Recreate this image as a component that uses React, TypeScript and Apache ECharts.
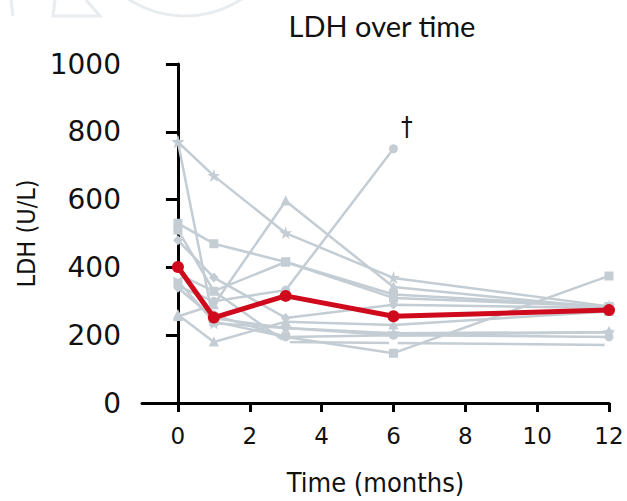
import React, { useEffect, useRef } from "react";
import * as echarts from "echarts";

// Sampling times (months) and tick marks
const months = [0, 1, 3, 6, 12];
const xTicks = [0, 2, 4, 6, 8, 10, 12];

// Mean LDH (U/L) across the cohort
const meanLDH = [401, 252, 316, 256, 274];

// Individual patients: LDH at months 0, 1, 3, 6, 12 (null = not measured)
const patientA = [770, 670, 501, 369, 285];
const patientB = [770, 235, 221, 206, 209];
const patientC = [255, 290, 596, 342, 280];
const patientD = [345, 300, 333, 750, null]; // died after month 6
const patientE = [530, 470, 416, 310, 285];
const patientF = [360, 240, 195, 147, 375];
const patientG = [480, 370, 251, 290, 280];
const patientH = [380, 330, 180, 177, 171];
const patientI = [400, 260, 195, 200, 195];
const patientJ = [260, 180, 240, 230, 270];
const patientK = [340, 250, 221, 200, 209];
const patientL = [510, 330, 416, 320, 285];

const STAR =
  "path://M50,0 L61,35 L98,35 L68,57 L79,91 L50,70 L21,91 L32,57 L2,35 L39,35 Z";

const patients: { values: (number | null)[]; symbol: string }[] = [
  { values: patientA, symbol: STAR },
  { values: patientB, symbol: STAR },
  { values: patientC, symbol: "triangle" },
  { values: patientD, symbol: "circle" },
  { values: patientE, symbol: "rect" },
  { values: patientF, symbol: "rect" },
  { values: patientG, symbol: "diamond" },
  { values: patientH, symbol: "emptyCircle" },
  { values: patientI, symbol: "circle" },
  { values: patientJ, symbol: "triangle" },
  { values: patientK, symbol: "diamond" },
  { values: patientL, symbol: "rect" },
];

const GRAY = "#c4cdd4";
const RED = "#cf0a1c";
const TICK_FONT = "'DejaVu Sans', sans-serif";
const NAME_FONT = "'Liberation Sans Narrow', 'DejaVu Sans Condensed', 'Open Sans', sans-serif";

export default function App() {
  const ref = useRef<HTMLDivElement>(null);

  useEffect(() => {
    if (!ref.current) return;
    const chart = echarts.init(ref.current, undefined, { renderer: "svg" });

    const patientSeries = patients.map((p, idx) => ({
      type: "line",
      name: "patient" + idx,
      data: months
        .map((m, i) => [m, p.values[i]])
        .filter((d) => d[1] !== null),
      symbol: p.symbol,
      symbolSize: 7,
      showSymbol: true,
      lineStyle: { color: GRAY, width: 2.5 },
      itemStyle: { color: p.symbol === "emptyCircle" ? "#fff" : GRAY, borderColor: GRAY, borderWidth: 2 },
      z: 2,
      label:
        p.values === patientD
          ? {
              show: true,
              formatter: (params: any) => (params.data[0] === 6 ? "†" : ""),
              position: "right",
              offset: [-2, -22],
              fontSize: 26,
              color: "#111",
              fontFamily: NAME_FONT,
            }
          : { show: false },
    }));

    chart.setOption({
      animation: false,
      backgroundColor: "#fff",
      title: {
        text: "LDH over time",
        left: 377,
        top: 6,
        textAlign: "center",
        textStyle: { fontSize: 29, fontWeight: "normal", color: "#111", fontFamily: "Lato, 'Open Sans', sans-serif" },
      },
      graphic: [
        {
          type: "circle",
          shape: { cx: 185, cy: -87, r: 103 },
          style: { fill: "none", stroke: "#e8ecee", lineWidth: 3 },
          silent: true,
        },
        {
          type: "polyline",
          shape: { points: [[55, 0], [53, 16], [100, 16], [86, 0]] },
          style: { fill: "none", stroke: "#e8ecee", lineWidth: 3 },
          silent: true,
        },
        {
          type: "line",
          shape: { x1: 11, y1: 0, x2: 13, y2: 16 },
          style: { stroke: "#e8ecee", lineWidth: 3 },
          silent: true,
        },
      ],
      grid: { left: 142, right: 18, top: 64, bottom: 98, containLabel: false },
      xAxis: {
        type: "value",
        min: -1,
        max: 12,
        name: "Time (months)",
        nameLocation: "middle",
        nameGap: 66,
        nameTextStyle: { fontSize: 27, color: "#111", fontFamily: NAME_FONT },
        axisLine: { show: true, onZero: false, lineStyle: { color: "#000", width: 3 } },
        axisTick: { show: true, customValues: xTicks, length: 9, lineStyle: { color: "#000", width: 3 } },
        axisLabel: { customValues: xTicks, fontSize: 23, color: "#111", margin: 21, fontFamily: TICK_FONT },
        splitLine: { show: false },
      },
      yAxis: {
        type: "value",
        min: 0,
        max: 1000,
        interval: 200,
        name: "LDH (U/L)",
        nameLocation: "middle",
        nameGap: 97,
        nameRotate: 90,
        nameTextStyle: { fontSize: 25, color: "#111", fontFamily: NAME_FONT },
        axisLine: { show: true, lineStyle: { color: "#000", width: 3 } },
        axisTick: { show: true, length: 12, lineStyle: { color: "#000", width: 3 } },
        axisLabel: {
          fontSize: 28,
          color: "#111",
          margin: 21,
          fontFamily: TICK_FONT,
          formatter: (v: number) => String(v),
        },
        splitLine: { show: false },
      },
      series: [
        ...patientSeries,
        {
          type: "line",
          name: "mean",
          data: months.map((m, i) => [m, meanLDH[i]]),
          symbol: "circle",
          symbolSize: 12,
          lineStyle: { color: RED, width: 5 },
          itemStyle: { color: RED },
          z: 5,
        },
      ],
    });

    return () => chart.dispose();
  }, []);

  return (
    <div
      ref={ref}
      style={{ position: "fixed", left: 0, top: 0, width: 627, height: 501, background: "#fff" }}
    />
  );
}
